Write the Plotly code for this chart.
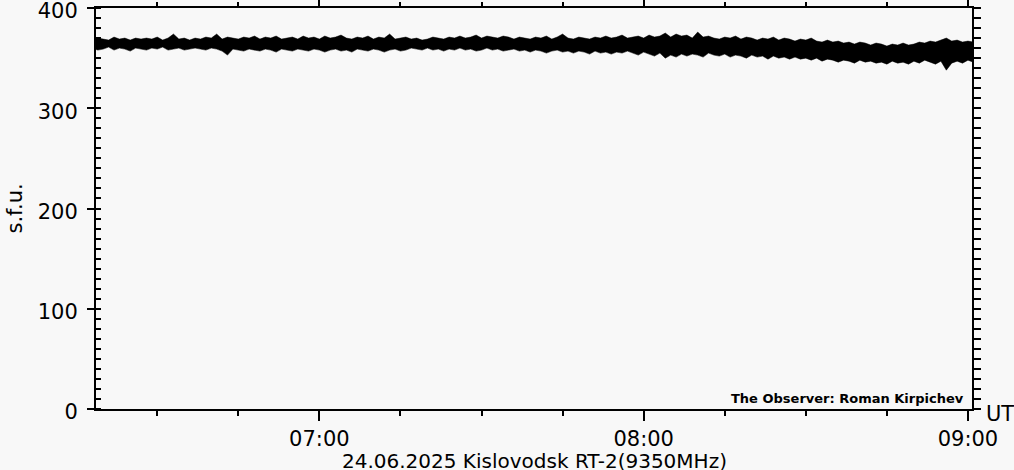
import pandas as pd
import plotly.graph_objects as go

# ---- data (per-minute envelope of the 9350 MHz flux, s.f.u.) ----
start_time = "2025-06-24 06:18"
n_minutes = 164
times = pd.date_range(start_time, periods=n_minutes, freq="1min")

flux_high = [
    368, 370, 369, 368, 371, 369, 370, 368, 370, 369,
    370, 369, 371, 368, 370, 374, 369, 370, 368, 370,
    369, 371, 370, 374, 369, 371, 370, 369, 371, 370,
    372, 369, 371, 370, 372, 369, 370, 371, 369, 372,
    370, 371, 369, 372, 370, 371, 373, 370, 369, 371,
    370, 372, 369, 371, 370, 374, 369, 370, 371, 369,
    370, 368, 369, 371, 370, 369, 371, 370, 372, 370,
    371, 373, 370, 372, 371, 370, 372, 371, 369, 371,
    370, 369, 371, 370, 372, 369, 371, 374, 370, 369,
    371, 370, 369, 371, 370, 372, 370, 371, 373, 370,
    371, 372, 370, 373, 371, 372, 375, 371, 374, 372,
    373, 370, 376, 371, 372, 370, 369, 371, 370, 372,
    369, 371, 370, 368, 370, 369, 371, 368, 370, 369,
    367, 369, 368, 370, 367, 366, 368, 366, 367, 365,
    366, 364, 366, 365, 363, 365, 364, 362, 364, 363,
    365, 363, 364, 366, 365, 367, 366, 368, 370, 367,
    368, 366, 367, 366,
]
flux_low = [
    360, 358, 359, 361, 358, 360, 359, 357, 360, 359,
    358, 360, 359, 361, 358, 359, 360, 358, 359, 360,
    359, 358, 360, 359, 357, 353, 359, 358, 357, 359,
    358, 357, 359, 358, 356, 359, 358, 357, 359, 358,
    357, 359, 358, 356, 358, 359, 357, 358, 356, 359,
    358, 357, 359, 358, 356, 358, 359, 357, 358, 360,
    359, 358, 360, 358, 359, 357, 359, 358, 360, 358,
    359, 357, 358, 360, 358, 359, 357, 358, 359, 357,
    358, 356, 358, 357, 355, 357, 358, 356, 357, 355,
    357, 356, 354, 357, 355, 356, 354, 356, 355, 357,
    355, 353, 356, 354, 352, 355, 350, 353, 351, 354,
    352, 354, 353, 351, 355, 353, 352, 354, 351, 353,
    352, 350, 353, 351, 352, 349, 352, 350, 351, 349,
    351, 349, 350, 348, 350, 347, 349, 348, 346, 348,
    347, 345, 348, 346, 347, 345, 346, 344, 347, 345,
    346, 344, 347, 345, 348, 346, 344, 347, 338, 345,
    347, 345, 348, 346,
]

x_range = ["2025-06-24 06:18:40", "2025-06-24 09:00:45"]
y_range = [0, 400]
hour_ticks = ["2025-06-24 07:00", "2025-06-24 08:00", "2025-06-24 09:00"]
hour_labels = ["07:00", "08:00", "09:00"]
y_ticks = [0, 100, 200, 300, 400]
y_minor_ticks = list(range(0, 401, 10))

title_text = "24.06.2025 Kislovodsk RT-2(9350MHz)"
observer_text = "The Observer: Roman Kirpichev"
y_label = "s.f.u."
x_unit = "UT"

# ---- figure ----
BG = "#f8f8f8"
FONT = "DejaVu Sans"

fig = go.Figure()
fig.add_trace(go.Scatter(x=times, y=flux_low, mode="lines",
                         line=dict(color="black", width=0.5), hoverinfo="skip",
                         showlegend=False))
fig.add_trace(go.Scatter(x=times, y=flux_high, mode="lines", fill="tonexty",
                         fillcolor="black", line=dict(color="black", width=0.5),
                         hoverinfo="skip", showlegend=False))
# invisible trace to activate the mirrored top/right axes
fig.add_trace(go.Scatter(x=times, y=flux_low, mode="lines", xaxis="x2", yaxis="y2",
                         line=dict(color="rgba(0,0,0,0)", width=0), hoverinfo="skip",
                         showlegend=False))

tickfont = dict(family=FONT, size=21, color="black")

fig.update_layout(
    width=1014, height=470,
    margin=dict(l=96, r=42, t=8, b=61, autoexpand=False),
    paper_bgcolor=BG, plot_bgcolor=BG,
    showlegend=False,
    xaxis=dict(type="date", range=x_range, showgrid=False, zeroline=False,
               automargin=False,
               showline=True, linecolor="black", linewidth=2,
               tickmode="array", tickvals=hour_ticks, ticktext=hour_labels,
               ticks="outside", ticklen=10, tickwidth=2, tickcolor="black",
               tickfont=tickfont, ticklabelstandoff=0, ticklabeloverflow="allow",
               minor=dict(dtick=900000, tick0="2025-06-24 06:00", ticks="outside",
                          ticklen=5, tickwidth=2, tickcolor="black", showgrid=False)),
    xaxis2=dict(type="date", range=x_range, overlaying="x", side="top",
                automargin=False,
                showgrid=False, zeroline=False, showline=True, linecolor="black",
                linewidth=2, tickmode="array", tickvals=hour_ticks,
                showticklabels=False, ticks="outside", ticklen=7, tickwidth=2,
                tickcolor="black",
                minor=dict(dtick=900000, tick0="2025-06-24 06:00", ticks="outside",
                           ticklen=4, tickwidth=2, tickcolor="black", showgrid=False)),
    yaxis=dict(range=y_range, showgrid=False, zeroline=False, showline=True,
               automargin=False,
               linecolor="black", linewidth=2, tickmode="array", tickvals=y_ticks,
               ticks="outside", ticklen=7, tickwidth=2, tickcolor="black",
               tickfont=tickfont, ticklabelstandoff=5, ticklabeloverflow="allow",
               ticklabelshift=3,
               minor=dict(tickvals=y_minor_ticks, ticks="inside", ticklen=5,
                          tickwidth=2, tickcolor="black", showgrid=False)),
    yaxis2=dict(range=y_range, overlaying="y", side="right", showgrid=False,
                automargin=False,
                zeroline=False, showline=True, linecolor="black", linewidth=2,
                tickmode="array", tickvals=y_minor_ticks, showticklabels=False,
                ticks="outside", ticklen=7, tickwidth=2, tickcolor="black"),
    annotations=[
        dict(text=title_text, xref="paper", yref="paper", x=0.5, y=0,
             xanchor="center", yanchor="middle", yshift=-52, showarrow=False,
             font=dict(family=FONT, size=20, color="black")),
        dict(text=x_unit, xref="paper", yref="paper", x=1 + 28 / 876, y=0,
             xanchor="center", yanchor="middle", yshift=-5, showarrow=False,
             font=dict(family=FONT, size=21, color="black")),
        dict(text="<b>" + observer_text + "</b>", xref="paper", yref="paper",
             x=1 - 6 / 876, y=0,
             xanchor="right", yanchor="middle", yshift=11, showarrow=False,
             font=dict(family=FONT, size=13, color="black")),
        dict(text=y_label, xref="paper", yref="paper", x=-82 / 876, y=0.5,
             xanchor="center", yanchor="middle", textangle=-90, showarrow=False,
             font=dict(family=FONT, size=21, color="black")),
    ],
)

fig.write_html(
    "out.html",
    config={"displayModeBar": False},
    post_script="document.body.style.margin='0';document.body.style.overflow='hidden';",
)
